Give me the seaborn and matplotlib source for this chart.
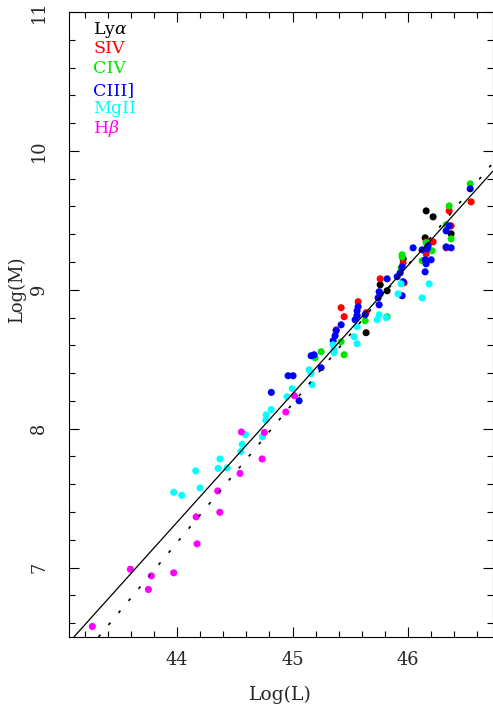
import numpy as np
import pandas as pd
import matplotlib
matplotlib.use("Agg")
import matplotlib.pyplot as plt
import seaborn as sns
from matplotlib.ticker import MultipleLocator

# ---- data ----
lya_L = [45.636, 45.758, 45.818, 45.957, 46.147, 46.156, 46.216, 46.372]
lya_M = [8.691, 9.036, 8.993, 9.223, 9.374, 9.568, 9.525, 9.403]

siv_L = [45.420, 45.446, 45.377, 45.567, 45.636, 45.758, 45.957, 45.965, 46.156, 46.216,
         46.156, 46.355, 46.372, 46.329, 46.545]
siv_M = [8.871, 8.806, 8.712, 8.914, 8.835, 9.079, 9.194, 9.050, 9.345, 9.345,
         9.259, 9.568, 9.460, 9.302, 9.633]

civ_L = [45.247, 45.446, 45.195, 45.420, 45.558, 45.628, 45.818, 45.948, 45.948, 45.939,
         46.121, 46.156, 46.208, 46.329, 46.355, 46.372, 46.537]
civ_M = [8.554, 8.532, 8.511, 8.626, 8.820, 8.777, 8.806, 9.252, 9.237, 9.158,
         9.209, 9.338, 9.281, 9.468, 9.604, 9.367, 9.763]

ciii_L = [44.816, 44.961, 45.004, 45.056, 45.160, 45.186, 45.247, 45.351, 45.368, 45.377,
          45.420, 45.541, 45.558, 45.567, 45.558, 45.628, 45.749, 45.758, 45.740, 45.749,
          45.818, 45.905, 45.931, 45.948, 45.957, 45.948, 46.043, 46.121, 46.165, 46.173,
          46.147, 46.156, 46.199, 46.147, 46.329, 46.355, 46.329, 46.372, 46.537]
ciii_M = [8.261, 8.381, 8.381, 8.201, 8.525, 8.532, 8.439, 8.633, 8.669, 8.705,
          8.748, 8.784, 8.813, 8.878, 8.849, 8.820, 8.986, 8.971, 8.942, 8.892,
          9.079, 9.094, 9.122, 9.165, 9.058, 8.957, 9.302, 9.288, 9.295, 9.317,
          9.216, 9.187, 9.216, 9.129, 9.424, 9.460, 9.309, 9.302, 9.727]

mgii_L = [43.971, 44.041, 44.162, 44.199, 44.355, 44.372, 44.433, 44.552, 44.563, 44.591,
          44.739, 44.768, 44.771, 44.814, 44.952, 44.996, 45.143, 45.160, 45.169, 45.351,
          45.359, 45.359, 45.532, 45.558, 45.558, 45.732, 45.749, 45.810, 45.913, 45.939,
          46.121, 46.182]
mgii_M = [7.542, 7.520, 7.696, 7.573, 7.714, 7.782, 7.717, 7.835, 7.887, 7.957,
          7.942, 8.060, 8.099, 8.137, 8.230, 8.288, 8.424, 8.396, 8.317, 8.604,
          8.568, 8.547, 8.662, 8.612, 8.734, 8.784, 8.820, 8.799, 8.971, 9.043,
          8.942, 9.043]

hb_L = [43.267, 43.596, 43.778, 43.752, 43.971, 44.165, 44.173, 44.352, 44.370, 44.545,
        44.557, 44.736, 44.756, 45.016, 44.941]
hb_M = [6.576, 6.988, 6.940, 6.842, 6.962, 7.365, 7.171, 7.552, 7.398, 7.678,
        7.976, 7.782, 7.973, 8.237, 8.120]

lines = ["Ly$\\alpha$", "SIV", "CIV", "CIII]", "MgII", "H$\\beta$"]
colors = ["#000000", "#ff0000", "#00e600", "#0000ff", "#00ffff", "#ff00ff"]

# fit lines: (slope, M at L=45)
fit_solid = (0.925, 8.251)
fit_dotted = (1.0, 8.18)

xlim = (43.065, 46.73)
ylim = (6.5, 11.0)

# ---- build frame ----
series = [(lya_L, lya_M), (siv_L, siv_M), (civ_L, civ_M),
          (ciii_L, ciii_M), (mgii_L, mgii_M), (hb_L, hb_M)]
rows = []
for name, (Ls, Ms) in zip(lines, series):
    for l, m in zip(Ls, Ms):
        rows.append({"L": l, "M": m, "line": name})
df = pd.DataFrame(rows)

sns.set_style("ticks")
plt.rcParams["font.family"] = ["DejaVu Serif"]
plt.rcParams["mathtext.fontset"] = "dejavuserif"

fig = plt.figure(figsize=(4.93, 7.11), dpi=100)
ax = fig.add_axes([69 / 493, 1 - 637 / 711, 423.5 / 493, 625 / 711])

sns.scatterplot(data=df, x="L", y="M", hue="line", hue_order=lines,
                palette=dict(zip(lines, colors)), s=26, linewidth=0,
                legend=False, ax=ax, zorder=3)

ax.axline((45.0, fit_solid[1]), slope=fit_solid[0], color="black", lw=0.9, zorder=4)
ax.axline((45.0, fit_dotted[1]), slope=fit_dotted[0], color="black", lw=1.2,
          linestyle=(0, (1.8, 7.6)), zorder=4)

ax.set_xlim(*xlim)
ax.set_ylim(*ylim)

ax.xaxis.set_major_locator(MultipleLocator(1))
ax.xaxis.set_minor_locator(MultipleLocator(0.2))
ax.yaxis.set_major_locator(MultipleLocator(1))
ax.yaxis.set_minor_locator(MultipleLocator(0.2))
ax.tick_params(which="both", direction="in", top=True, right=True, width=0.8, color="black")
ax.tick_params(which="major", length=7)
ax.tick_params(which="minor", length=4)
ax.tick_params(axis="x", which="major", labelsize=12.8, pad=10)
ax.tick_params(axis="y", which="major", labelsize=12.8, pad=15)
for lab in ax.get_yticklabels():
    lab.set_rotation(90)
    lab.set_va("center")
for sp in ax.spines.values():
    sp.set_linewidth(0.8)
    sp.set_color("black")

ax.set_xlabel("")
ax.set_ylabel("")
ax.text(0.5, -0.093, "Log(L)", transform=ax.transAxes, ha="center", va="center", fontsize=13.5)
ax.text(-0.122, 0.555, "Log(M)", transform=ax.transAxes, ha="center", va="center",
        fontsize=13, rotation=90)

ypos = [0.971, 0.941, 0.909, 0.875, 0.845, 0.813]
for name, c, yy in zip(lines, colors, ypos):
    ax.text(0.057, yy, name, transform=ax.transAxes, color=c, fontsize=12.5,
            ha="left", va="center")

fig.savefig("out.png", dpi=100)
